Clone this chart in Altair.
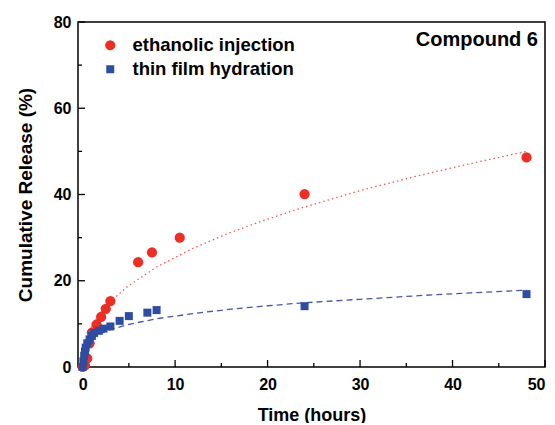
import altair as alt
import pandas as pd

# ---- data ----
series_names = ["ethanolic injection", "thin film hydration"]

red_t = [0, 0.25, 0.5, 0.75, 1, 1.5, 2, 2.5, 3, 6, 7.5, 10.5, 24, 48]
red_y = [0, 0.4, 2.0, 5.5, 8.0, 9.8, 11.6, 13.5, 15.3, 24.3, 26.6, 30.0, 40.1, 48.6]

blue_t = [0, 0.08, 0.17, 0.25, 0.33, 0.5, 0.75, 1, 1.25, 1.75, 2.25, 3, 4, 5, 7, 8, 24, 48]
blue_y = [0, 1.3, 2.6, 3.6, 4.5, 5.5, 6.4, 7.2, 7.9, 8.4, 8.9, 9.4, 10.7, 11.8, 12.6, 13.2, 14.1, 16.9]

# fitted curves
red_fit_t = [0, 0.02, 0.1, 0.25, 0.5, 1, 2, 3, 5, 8, 12, 16, 20, 24, 30, 36, 42, 48]
red_fit_y = [0, 1.8, 3.5, 5.2, 7.0, 9.5, 12.8, 15.2, 18.9, 23.2, 27.6, 31.2, 34.3, 37.1, 40.9, 44.2, 47.2, 50.0]

blue_fit_t = [0, 0.02, 0.1, 0.25, 0.5, 1, 2, 3, 5, 8, 12, 16, 20, 24, 30, 36, 42, 48]
blue_fit_y = [0, 2.35, 3.6, 4.5, 5.4, 6.5, 7.8, 8.65, 9.9, 11.2, 12.4, 13.4, 14.2, 14.9, 15.7, 16.5, 17.2, 17.8]

x_major = [0, 10, 20, 30, 40, 50]
x_minor = [5, 15, 25, 35, 45]
y_major = [0, 20, 40, 60, 80]
y_minor = [10, 30, 50, 70]

# ---- styling ----
FONT = "Liberation Sans"
W, H = 467, 345
colors = ["#EC2E24", "#2F4DA0"]
shapes = ["circle", "square"]
sizes = [105, 64]

pts = pd.DataFrame(
    {"t": red_t + blue_t,
     "y": red_y + blue_y,
     "series": [series_names[0]] * len(red_t) + [series_names[1]] * len(blue_t)}
)
red_fit = pd.DataFrame({"t": red_fit_t, "y": red_fit_y})
blue_fit = pd.DataFrame({"t": blue_fit_t, "y": blue_fit_y})

xscale = alt.Scale(domain=[-0.5, 50], nice=False, zero=False)
yscale = alt.Scale(domain=[0, 80], nice=False)

x_axis = alt.Axis(values=x_major, format="d", title="Time (hours)", domain=False, ticks=False,
                  tickSize=0, grid=False, labelPadding=9, titlePadding=14,
                  labelFont=FONT, labelFontSize=16, labelFontWeight="bold", labelColor="black",
                  titleFont=FONT, titleFontSize=18, titleFontWeight="bold", titleColor="black")
y_axis = alt.Axis(values=y_major, format="d", title="Cumulative Release (%)", domain=False, ticks=False,
                  tickSize=0, grid=False, labelPadding=7, titlePadding=18,
                  labelFont=FONT, labelFontSize=16, labelFontWeight="bold", labelColor="black",
                  titleFont=FONT, titleFontSize=19, titleFontWeight="bold", titleColor="black")

X = lambda f: alt.X(f, type="quantitative", scale=xscale, axis=x_axis)
Y = lambda f: alt.Y(f, type="quantitative", scale=yscale, axis=y_axis)

red_line = alt.Chart(red_fit).mark_line(color="#F05A55", strokeWidth=1.3, strokeDash=[1.5, 3]).encode(
    x=X("t"), y=Y("y"))
blue_line = alt.Chart(blue_fit).mark_line(color="#4556AE", strokeWidth=1.3, strokeDash=[6, 4]).encode(
    x=X("t"), y=Y("y"))

points = alt.Chart(pts).mark_point(filled=True, opacity=1, strokeWidth=0).encode(
    x=X("t"), y=Y("y"),
    color=alt.Color("series:N", scale=alt.Scale(domain=series_names, range=colors),
                    legend=alt.Legend(title=None, orient="none", legendX=23, legendY=14,
                                      labelFont=FONT, labelFontSize=18.5, labelFontWeight="bold",
                                      labelColor="black", rowPadding=5, labelOffset=13,
                                      labelLimit=0, symbolStrokeWidth=0)),
    shape=alt.Shape("series:N", scale=alt.Scale(domain=series_names, range=shapes)),
    size=alt.Size("series:N", scale=alt.Scale(domain=series_names, range=sizes)),
    order=alt.Order("series:N"),
)

xt_major = pd.DataFrame({"v": x_major})
xt_minor = pd.DataFrame({"v": x_minor})
yt_major = pd.DataFrame({"v": y_major})
yt_minor = pd.DataFrame({"v": y_minor})

tick_x_major = alt.Chart(xt_major).mark_rule(color="black", strokeWidth=1.3).encode(
    x=X("v"), y=alt.value(H), y2=alt.value(H - 7))
tick_x_minor = alt.Chart(xt_minor).mark_rule(color="black", strokeWidth=1.3).encode(
    x=X("v"), y=alt.value(H), y2=alt.value(H - 4))
tick_y_major = alt.Chart(yt_major).mark_rule(color="black", strokeWidth=1.3).encode(
    y=Y("v"), x=alt.value(0), x2=alt.value(7))
tick_y_minor = alt.Chart(yt_minor).mark_rule(color="black", strokeWidth=1.3).encode(
    y=Y("v"), x=alt.value(0), x2=alt.value(4))

chart = alt.layer(
    tick_x_major, tick_x_minor, tick_y_major, tick_y_minor,
    red_line, blue_line, points,
).properties(
    width=W, height=H,
    autosize=alt.AutoSizeParams(type="none"),
    padding={"left": 70, "top": 14, "right": 2, "bottom": 56},
    title=alt.TitleParams("Compound 6", anchor="end", frame="group", offset=-36, dx=-7,
                          fontSize=20, font=FONT, fontWeight="bold", color="black"),
).configure_view(stroke="black", strokeWidth=1.5)

chart.save("out.html", embed_options={"renderer": "svg", "actions": False})
